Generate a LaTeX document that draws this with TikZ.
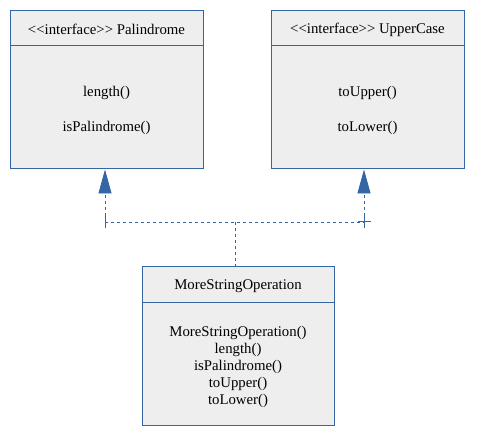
\documentclass[tikz,border=0pt]{standalone}
\usepackage{fontspec}
\setmainfont{Liberation Serif}[Ligatures=ResetAll]
\usetikzlibrary{arrows.meta}
\definecolor{umlblue}{HTML}{3465A4}
\definecolor{umlfill}{HTML}{EEEEEE}
\newcommand{\stereo}[1]{<\kern0pt<#1>\kern0pt>}
\begin{document}
\begin{tikzpicture}[x=1pt,y=-1pt,
  box/.style={draw=umlblue, fill=umlfill, line width=1pt, inner sep=0pt, minimum width=193pt},
  txt/.style={font=\fontsize{14.8}{17}\selectfont, inner sep=0pt, text=black},
  dep/.style={draw=umlblue, line width=0.9pt, dash pattern=on 3pt off 3pt},
  tick/.style={draw=umlblue, line width=1pt},
  realize/.style={dep, -{Triangle[width=13pt,length=24pt,fill=umlblue]}}]
\useasboundingbox (0,0) rectangle (477,443);
% Palindrome
\node[box, minimum height=35pt] (palh) at (106.5,28.5) {};
\node[box, minimum height=123pt] (palb) at (106.5,107.5) {};
\node[txt] (palt) at (106.5,29.5) {\stereo{interface} Palindrome};
\node[txt] (pal1) at (106.5,92.5) {length()};
\node[txt] (pal2) at (106.5,127.5) {isPalindrome()};
% UpperCase
\node[box, minimum height=35pt] (uph) at (367.5,28.5) {};
\node[box, minimum height=123pt] (upb) at (367.5,107.5) {};
\node[txt] (upt) at (367.5,29.5) {\stereo{interface} UpperCase};
\node[txt] (up1) at (367.5,92.5) {toUpper()};
\node[txt] (up2) at (367.5,127.5) {toLower()};
% MoreStringOperation
\node[box, minimum width=192pt, minimum height=36pt] (msh) at (238,285) {};
\node[box, minimum width=192pt, minimum height=123pt] (msb) at (238,364.5) {};
\node[txt] (mst) at (238,286) {MoreStringOperation};
\node[txt, align=center] (msm) at (238,366.5) {MoreStringOperation()\\length()\\isPalindrome()\\toUpper()\\toLower()};
% connectors
\coordinate (jl) at (105,222);
\coordinate (jr) at (364,222);
\coordinate (jm) at (235,222);
\draw[realize] (jl) -- (palb.south -| jl);
\draw[realize] (jr) -- (upb.south -| jr);
\draw[dep] (jl) -- (jr);
\draw[dep] (jm) -- (msh.north -| jm);
% small end marks
\coordinate (tl1) at (105,213);
\coordinate (tl2) at (105,228);
\coordinate (tr1) at (364,215);
\coordinate (tr2) at (364,228);
\coordinate (tr3) at (358,222);
\coordinate (tr4) at (371,222);
\draw[tick] (tl1) -- (tl2);
\draw[tick] (tr1) -- (tr2);
\draw[tick] (tr3) -- (tr4);
\end{tikzpicture}
\end{document}
